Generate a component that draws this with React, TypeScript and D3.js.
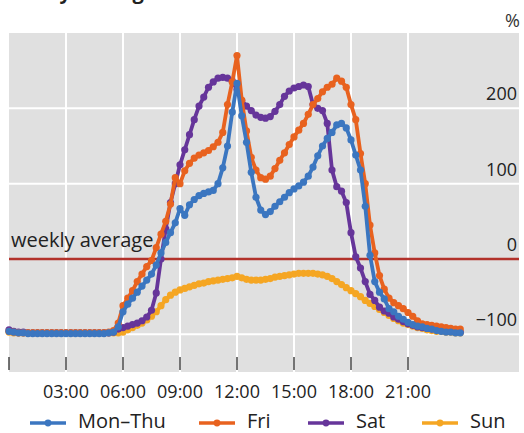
import * as d3 from "d3";
import React from "react";

// quarter-hour slots, 00:00 .. 23:45
const monThu = [
  -96, -97, -98, -98, -99, -99, -99, -99, -99, -99, -99, -99, -99, -99, -99, -99,
  -99, -99, -99, -99, -99, -98, -97, -90, -70, -60, -52, -44, -36, -28, -20, -8,
  8, 22, 35, 48, 67, 58, 72, 79, 84, 87, 89, 91, 100, 121, 150, 195,
  233, 190, 155, 115, 82, 65, 59, 63, 70, 76, 82, 88, 93, 97, 102, 110,
  122, 137, 150, 160, 168, 178, 180, 174, 158, 138, 118, 70, 5, -30, -44, -53,
  -66, -70, -76, -80, -84, -87, -89, -90, -92, -93, -95, -96, -97, -97, -98, -98,
];
const fri = [
  -96, -97, -98, -98, -98, -98, -98, -98, -98, -98, -98, -98, -98, -98, -98, -98,
  -98, -98, -98, -98, -98, -97, -95, -85, -62, -52, -42, -30, -20, -10, -2, 15,
  33, 50, 73, 108, 100, 117, 127, 134, 138, 141, 144, 149, 155, 168, 205, 235,
  270, 211, 170, 135, 118, 108, 106, 110, 120, 131, 141, 152, 162, 171, 180, 192,
  205, 213, 222, 228, 232, 240, 236, 228, 205, 185, 140, 100, 45, 8, -22, -40,
  -52, -58, -62, -66, -71, -76, -82, -86, -87, -88, -89, -90, -91, -92, -93, -93,
];
const sat = [
  -94, -96, -97, -97, -98, -98, -98, -98, -98, -98, -98, -98, -98, -98, -98, -98,
  -98, -98, -98, -98, -98, -98, -97, -93, -91, -89, -87, -85, -82, -77, -68, -45,
  0, 40, 75, 100, 125, 145, 165, 185, 203, 215, 228, 235, 240, 241, 240, 236,
  225, 210, 203, 197, 191, 188, 187, 189, 196, 205, 216, 223, 227, 229, 231, 229,
  205, 200, 197, 180, 118, 96, 90, 75, 35, 3, -12, -30, -47, -55, -64, -69,
  -72, -77, -80, -83, -86, -88, -90, -91, -92, -93, -94, -95, -95, -96, -96, -97,
];
const sun = [
  -97, -98, -98, -98, -98, -98, -98, -98, -98, -98, -98, -98, -98, -98, -98, -98,
  -98, -98, -98, -98, -98, -98, -98, -98, -97, -94, -91, -88, -85, -81, -76, -70,
  -62, -54, -48, -44, -41, -39, -37, -35, -33, -32, -30, -29, -28, -27, -26, -25,
  -23, -25, -27, -28, -28, -28, -27, -26, -24, -23, -22, -21, -20, -19, -19, -19,
  -19, -20, -21, -23, -26, -30, -34, -38, -42, -46, -50, -55, -59, -63, -67, -71,
  -75, -79, -82, -85, -87, -89, -91, -92, -94, -95, -96, -96, -97, -97, -98, -98,
];

const seriesNames = ["Mon–Thu", "Fri", "Sat", "Sun"];
const seriesValues = [monThu, fri, sat, sun];
const seriesColors = ["#3b76c0", "#e8621f", "#66359a", "#f5a623"];

const xTicks = [0, 3, 6, 9, 12, 15, 18, 21];
const xTickLabels = ["", "03:00", "06:00", "09:00", "12:00", "15:00", "18:00", "21:00"];
const yTicks = [-100, 0, 100, 200];
const yTickLabels = ["\u2212100", "0", "100", "200"];

const W = 524;
const H = 433;
const panel = { left: 9, right: 519, top: 33, bottom: 372 };
const font = "'Open Sans', 'Noto Sans', sans-serif";

export default function App() {
  const x = d3.scaleLinear().domain([0, 24]).range([9, 465]);
  const y = d3.scaleLinear().domain([-150, 300]).range([panel.bottom, panel.top]);

  const line = d3
    .line<number>()
    .x((_, i) => x(i / 4))
    .y((d) => y(d));

  // draw Sun first so Mon–Thu ends up on top
  const order = [3, 2, 1, 0];

  const legendX = [30, 199, 308, 422];

  return (
    <svg
      width={W}
      height={H}
      style={{ position: "absolute", left: 0, top: 0, background: "#fff" }}
      fontFamily={font}
    >
      <text x={-2} y={-1} fontSize={20} fontWeight={700} fill="#222">
        Weekly average
      </text>
      <text x={520} y={27} fontSize={18} textAnchor="end" fill="#333">
        %
      </text>
      <rect
        x={panel.left}
        y={panel.top}
        width={panel.right - panel.left}
        height={panel.bottom - panel.top}
        fill="#e0e0e0"
      />
      {xTicks
        .filter((t) => t > 0)
        .map((t) => (
          <line key={"gx" + t} x1={x(t)} x2={x(t)} y1={panel.top} y2={panel.bottom} stroke="#fff" strokeWidth={2} />
        ))}
      {yTicks
        .filter((t) => t !== 0)
        .map((t) => (
          <line key={"gy" + t} x1={panel.left} x2={panel.right} y1={y(t)} y2={y(t)} stroke="#fff" strokeWidth={2} />
        ))}
      {xTicks.map((t) => (
        <line key={"tk" + t} x1={x(t)} x2={x(t)} y1={panel.bottom - 15} y2={panel.bottom - 2} stroke="#444" strokeWidth={1.5} />
      ))}
      <line x1={panel.left} x2={panel.right} y1={y(0)} y2={y(0)} stroke="#b2322b" strokeWidth={2.5} />
      <text x={11} y={y(0) - 12} fontSize={20} fill="#222">
        weekly average
      </text>
      {yTicks.map((t, i) => (
        <text key={"yl" + t} x={517} y={y(t) - 8} fontSize={18} textAnchor="end" fill="#222">
          {yTickLabels[i]}
        </text>
      ))}
      {order.map((s) => (
        <g key={seriesNames[s]}>
          <path d={line(seriesValues[s]) || ""} fill="none" stroke={seriesColors[s]} strokeWidth={3.8} strokeLinejoin="round" />
          {seriesValues[s].map((v, i) => (
            <circle key={i} cx={x(i / 4)} cy={y(v)} r={3.6} fill={seriesColors[s]} />
          ))}
        </g>
      ))}
      {xTicks.map((t, i) => (
        <text key={"xl" + t} x={x(t)} y={398} fontSize={18} textAnchor="middle" fill="#222">
          {xTickLabels[i]}
        </text>
      ))}
      {seriesNames.map((n, i) => (
        <g key={"lg" + n} transform={`translate(${legendX[i]},423)`}>
          <line x1={0} x2={36} y1={0} y2={0} stroke={seriesColors[i]} strokeWidth={3.5} />
          <circle cx={18} cy={0} r={3.4} fill={seriesColors[i]} />
          <text x={48} y={5} fontSize={20} fill="#222">
            {n}
          </text>
        </g>
      ))}
    </svg>
  );
}
